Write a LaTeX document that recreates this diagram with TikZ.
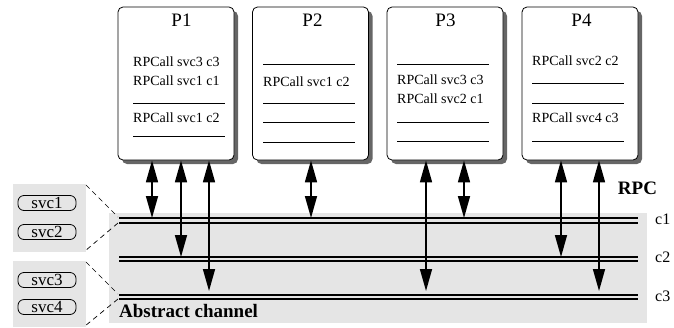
\documentclass[tikz,border=0pt]{standalone}
\usepackage{fontspec}
\setmainfont{Liberation Serif}
\usetikzlibrary{arrows.meta,shadows}

\tikzset{
  panel/.style={fill=black!10},
  procbox/.style={draw,line width=0.8pt,rounded corners=5pt,fill=white,
    minimum width=116pt,minimum height=153pt,inner sep=0pt,
    drop shadow={shadow xshift=4pt,shadow yshift=-4pt,fill=black!60,opacity=1}},
  ptitle/.style={inner sep=0pt,font=\fontsize{19}{21}\selectfont},
  call/.style={anchor=west,inner sep=0pt,font=\fontsize{14}{16}\selectfont},
  slot/.style={line width=0.8pt},
  svcbox/.style={draw,line width=0.8pt,rounded corners=6pt,minimum width=58pt,
    minimum height=15pt,inner sep=0pt,font=\fontsize{17}{19}\selectfont},
  chanline/.style={line width=1.5pt},
  chanlabel/.style={anchor=west,inner sep=0pt,font=\fontsize{16}{18}\selectfont},
  boldlabel/.style={inner sep=0pt,font=\fontsize{19}{21}\selectfont\bfseries},
  zoomline/.style={line width=0.7pt,dash pattern=on 5pt off 4pt},
  rpc/.style={{Triangle[length=22pt,width=12pt]}-{Triangle[length=22pt,width=12pt]},line width=1.6pt}
}

\begin{document}
\begin{tikzpicture}[x=1pt,y=-1pt,line join=round]
  \def\w{92}
  \useasboundingbox (0,0) rectangle (674,327);
  % grey panels
  \fill[panel] (109,213) rectangle (647,323);
  \fill[panel] (13,184) rectangle (86,252);
  \fill[panel] (13,261) rectangle (86,327);
  % services
  \node[svcbox] (svc1) at (47,203) {svc1};
  \node[svcbox] (svc2) at (47,232) {svc2};
  \node[svcbox] (svc3) at (47,280) {svc3};
  \node[svcbox] (svc4) at (47,307) {svc4};
  \draw[zoomline] (86,185) -- (118,217);
  \draw[zoomline] (118,223) -- (85,251);
  \draw[zoomline] (86,262) -- (118,294);
  \draw[zoomline] (118,299) -- (85,326);
  % channels
  \foreach \y in {218,223,257,261,295,299}
    \draw[chanline] (119,\y) -- (638,\y);
  \node[chanlabel] (c1) at (655,219) {c1};
  \node[chanlabel] (c2) at (655,257.5) {c2};
  \node[chanlabel] (c3) at (655,296) {c3};
  \node[boldlabel] (rpc) at (637.5,188.5) {RPC};
  \node[boldlabel,anchor=base west] (abs) at (119,317) {Abstract channel};
  % processes
  \node[procbox] (p1) at (176,83.5) {};
  \node[procbox] (p2) at (310.5,83.5) {};
  \node[procbox] (p3) at (445,83.5) {};
  \node[procbox] (p4) at (580,83.5) {};
  \node[ptitle] (t1) at (181.5,20.5) {P1};
  \node[ptitle] (t2) at (312.5,20.5) {P2};
  \node[ptitle] (t3) at (445.5,20.5) {P3};
  \node[ptitle] (t4) at (581.5,20.5) {P4};
  % P1
  \node[call] (r11) at (133,62) {RPCall svc3 c3};
  \node[call] (r12) at (133,81) {RPCall svc1 c1};
  \draw[slot] (133,103) -- ++(\w,0);
  \node[call] (r14) at (133,118) {RPCall svc1 c2};
  \draw[slot] (133,136) -- ++(\w,0);
  % P2
  \draw[slot] (263,64) -- ++(\w,0);
  \node[call] (r22) at (263,82) {RPCall svc1 c2};
  \foreach \y in {103,122,142}
    \draw[slot] (263,\y) -- ++(\w,0);
  % P3
  \draw[slot] (397,64) -- ++(\w,0);
  \node[call] (r32) at (397,80) {RPCall svc3 c3};
  \node[call] (r33) at (397,99) {RPCall svc2 c1};
  \draw[slot] (397,122) -- ++(\w,0);
  \draw[slot] (397,141) -- ++(\w,0);
  % P4
  \node[call] (r41) at (532,61) {RPCall svc2 c2};
  \draw[slot] (532,83) -- ++(\w,0);
  \draw[slot] (532,103) -- ++(\w,0);
  \node[call] (r44) at (532,118) {RPCall svc4 c3};
  \draw[slot] (532,141) -- ++(\w,0);
  % rpc ends on the channels
  \coordinate (e1) at (152,218);
  \coordinate (e2) at (181,257);
  \coordinate (e3) at (209,291);
  \coordinate (e4) at (311,218);
  \coordinate (e5) at (426,291);
  \coordinate (e6) at (464,218);
  \coordinate (e7) at (561,257);
  \coordinate (e8) at (599,291);
  \draw[rpc] (p1.south -| e1) -- (e1);
  \draw[rpc] (p1.south -| e2) -- (e2);
  \draw[rpc] (p1.south -| e3) -- (e3);
  \draw[rpc] (p2.south -| e4) -- (e4);
  \draw[rpc] (p3.south -| e5) -- (e5);
  \draw[rpc] (p3.south -| e6) -- (e6);
  \draw[rpc] (p4.south -| e7) -- (e7);
  \draw[rpc] (p4.south -| e8) -- (e8);
\end{tikzpicture}
\end{document}
